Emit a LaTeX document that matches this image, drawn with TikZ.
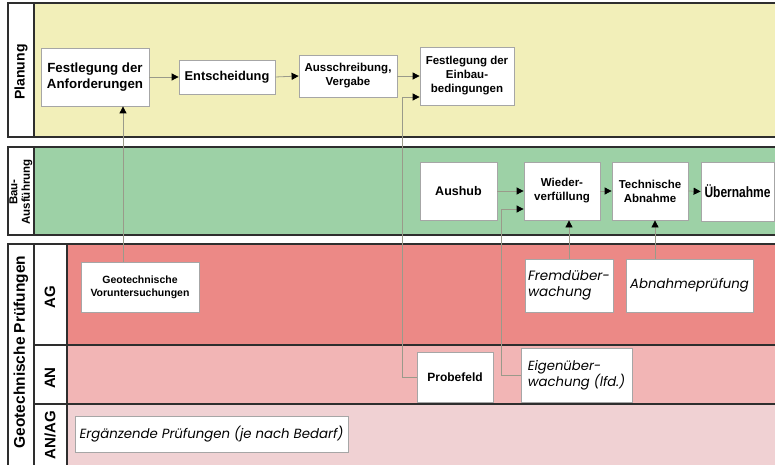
\documentclass[tikz,border=0pt]{standalone}
\usepackage{fontspec}
\setmainfont{Liberation Sans}
\newfontfamily\gothic{Poppins}
\newfontfamily\narrowfont[FakeStretch=0.8]{Liberation Sans}
\usetikzlibrary{arrows.meta}
\definecolor{yel}{HTML}{F2EFB9}
\definecolor{grn}{HTML}{9DD1A6}
\definecolor{redag}{HTML}{EC8986}
\definecolor{redan}{HTML}{F2B5B5}
\definecolor{redanag}{HTML}{F0D1D3}
\definecolor{frame}{HTML}{2E2E2E}
\definecolor{conn}{HTML}{9A9A8A}
\begin{document}
\begin{tikzpicture}[x=1pt,y=-1pt,
  box/.style={draw=gray!70, fill=white, line width=0.8pt, inner sep=1pt, align=center, font=\bfseries},
  itbox/.style={draw=gray!70, fill=white, line width=0.8pt, inner sep=1pt, align=left, font=\gothic\itshape},
  conline/.style={draw=conn, line width=0.8pt},
  arr/.style={conline, -{Triangle[length=7pt,width=7pt,color=black]}},
  frm/.style={draw=frame, line width=1.4pt},
  lab/.style={rotate=90, font=\bfseries, align=center}]
\useasboundingbox (0,0) rectangle (775,465);
% bands
\fill[yel] (34,3) rectangle (790,137);
\fill[grn] (34,147) rectangle (790,235);
\fill[redag] (67,244) rectangle (790,345);
\fill[redan] (67,345) rectangle (790,404);
\fill[redanag] (67,404) rectangle (790,470);
\draw[frm] (8,3) rectangle (790,137);
\draw[frm] (34,3) -- (34,137);
\draw[frm] (8,147) rectangle (790,235);
\draw[frm] (34,147) -- (34,235);
\draw[frm] (8,244) rectangle (790,470);
\draw[frm] (34,244) -- (34,470);
\draw[frm] (67,244) -- (67,470);
\draw[frm] (34,345) -- (790,345);
\draw[frm] (34,404) -- (790,404);
% lane labels
\node[lab, font=\bfseries\fontsize{14}{16}\selectfont] (lplan) at (21,72) {Planung};
\node[lab, font=\bfseries\fontsize{11.5}{12.5}\selectfont] (lbau) at (21,192) {Bau-\\Ausführung};
\node[lab, font=\bfseries\fontsize{15.5}{17}\selectfont] (lgeo) at (21,352) {Geotechnische Prüfungen};
\node[lab, font=\bfseries\fontsize{15}{17}\selectfont] (lag) at (50,297) {AG};
\node[lab, font=\bfseries\fontsize{15}{17}\selectfont] (lan) at (50,378) {AN};
\node[lab, font=\bfseries\fontsize{15}{17}\selectfont] (lanag) at (50,435) {AN/AG};
% boxes
\node[box, minimum width=108pt, minimum height=58pt, font=\bfseries\fontsize{13.3}{16.5}\selectfont] (anf) at (95,77) {Festlegung der\\Anforderungen};
\node[box, minimum width=96pt, minimum height=34pt, font=\bfseries\fontsize{12.8}{16}\selectfont] (ents) at (227,77) {Entscheidung};
\node[box, minimum width=98pt, minimum height=42pt, font=\bfseries\fontsize{11.5}{14}\selectfont] (aus) at (348,76) {Ausschreibung,\\Vergabe};
\node[box, minimum width=94pt, minimum height=58pt, font=\bfseries\fontsize{11.5}{14}\selectfont] (einb) at (467,76) {Festlegung der\\Einbau-\\bedingungen};
\node[box, minimum width=77pt, minimum height=58pt, font=\bfseries\fontsize{12.5}{15}\selectfont] (aushub) at (458.5,191) {Aushub};
\node[box, minimum width=76pt, minimum height=58pt, font=\bfseries\fontsize{11.5}{14}\selectfont] (wied) at (562,191) {Wieder-\\verfüllung};
\node[box, minimum width=76pt, minimum height=58pt, font=\bfseries\fontsize{11.5}{14}\selectfont] (tech) at (650,191) {Technische\\Abnahme};
\node[box, minimum width=73pt, minimum height=59pt, font=\narrowfont\bfseries\fontsize{15}{17}\selectfont] (ueb) at (737.5,191.5) {Übernahme};
\node[box, minimum width=118pt, minimum height=50pt, font=\bfseries\fontsize{10.5}{13}\selectfont] (vor) at (140,287) {Geotechnische\\Voruntersuchungen};
\node[itbox, minimum width=88pt, minimum height=53pt, font=\gothic\itshape\fontsize{13.5}{16}\selectfont] (fremd) at (569,285.5) {Fremdüber-\\wachung};
\node[itbox, minimum width=127pt, minimum height=53pt, font=\gothic\itshape\fontsize{13.3}{16}\selectfont] (abn) at (689.5,285.5) {Abnahmeprüfung};
\node[box, minimum width=76pt, minimum height=50pt, font=\bfseries\fontsize{12}{15}\selectfont] (probe) at (455,377) {Probefeld};
\node[itbox, minimum width=111pt, minimum height=54pt, font=\gothic\itshape\fontsize{13.2}{16}\selectfont] (eigen) at (576.5,375) {Eigenüber-\\wachung (lfd.)};
\node[itbox, minimum width=273pt, minimum height=36pt, font=\gothic\itshape\fontsize{13.3}{16}\selectfont] (erg) at (211.5,434) {Ergänzende Prüfungen (je nach Bedarf)};
% connectors
\draw[arr] (anf.east) -- (ents.west);
\draw[arr] (ents.east) -- (aus.west);
\draw[arr] (aus.east |- einb.west) -- (einb.west);
\draw[arr] (probe.west) -- ++(-14,0) |- ([yshift=-21pt]einb.west);
\draw[arr] (aushub.east |- wied.west) -- (wied.west);
\draw[arr] (eigen.west) -- ++(-19,0) |- ([yshift=-18pt]wied.west);
\draw[arr] (wied.east) -- (tech.west);
\draw[arr] (tech.east) -- (ueb.west);
\draw[arr] (fremd.north) -- (fremd.north |- wied.south);
\coordinate (ta) at (655,0);
\draw[arr] (ta |- abn.north) -- (ta |- tech.south);
\coordinate (va) at (123,0);
\draw[arr] (va |- vor.north) -- (va |- anf.south);
\end{tikzpicture}
\end{document}
